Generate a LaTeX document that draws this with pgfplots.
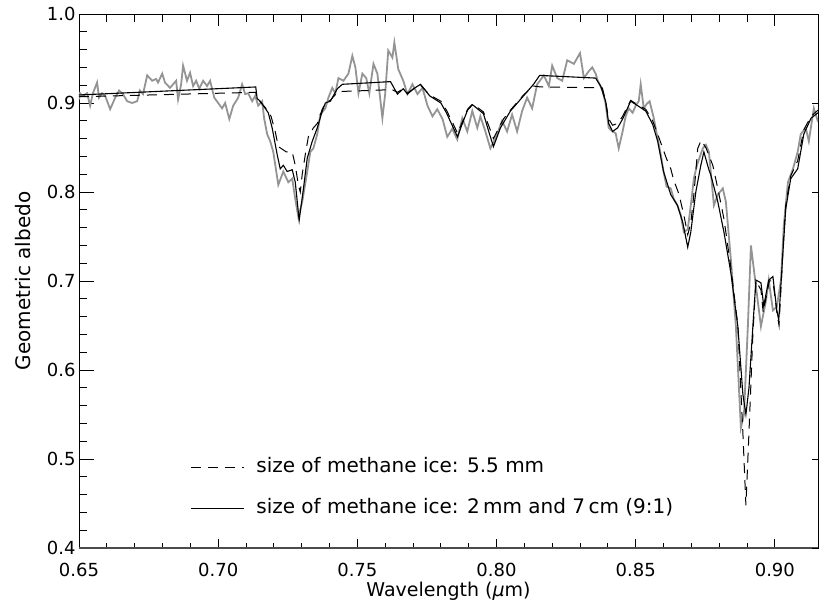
\documentclass[border=0pt]{standalone}
\usepackage{fontspec}
\setmainfont{DejaVu Sans}
\usepackage{pgfplots}
\pgfplotsset{compat=1.18}

% observed geometric albedo spectrum
\pgfplotstableread{
x y
0.6500 0.904
0.6504 0.911
0.6514 0.908
0.6529 0.911
0.6540 0.897
0.6550 0.911
0.6565 0.923
0.6572 0.906
0.6583 0.911
0.6594 0.908
0.6612 0.893
0.6630 0.906
0.6644 0.914
0.6658 0.910
0.6673 0.902
0.6691 0.900
0.6709 0.902
0.6719 0.914
0.6730 0.910
0.6745 0.931
0.6763 0.925
0.6777 0.927
0.6784 0.923
0.6799 0.933
0.6809 0.923
0.6827 0.917
0.6838 0.921
0.6849 0.925
0.6856 0.904
0.6867 0.921
0.6874 0.942
0.6888 0.925
0.6899 0.934
0.6910 0.919
0.6921 0.925
0.6932 0.916
0.6946 0.925
0.6960 0.919
0.6971 0.925
0.6986 0.906
0.7000 0.900
0.7014 0.894
0.7025 0.900
0.7040 0.882
0.7054 0.897
0.7072 0.906
0.7086 0.921
0.7097 0.910
0.7108 0.911
0.7122 0.902
0.7133 0.908
0.7144 0.897
0.7158 0.902
0.7165 0.883
0.7176 0.865
0.7187 0.857
0.7198 0.845
0.7216 0.808
0.7234 0.823
0.7252 0.811
0.7266 0.815
0.7277 0.792
0.7288 0.772
0.7302 0.789
0.7320 0.823
0.7331 0.845
0.7342 0.849
0.7356 0.865
0.7367 0.887
0.7385 0.894
0.7396 0.906
0.7410 0.917
0.7421 0.911
0.7432 0.928
0.7450 0.925
0.7468 0.933
0.7482 0.953
0.7493 0.940
0.7504 0.911
0.7518 0.933
0.7532 0.928
0.7543 0.911
0.7558 0.944
0.7572 0.933
0.7590 0.883
0.7600 0.910
0.7611 0.959
0.7626 0.951
0.7633 0.968
0.7647 0.938
0.7665 0.925
0.7680 0.910
0.7698 0.921
0.7716 0.910
0.7734 0.917
0.7752 0.897
0.7770 0.885
0.7787 0.893
0.7806 0.882
0.7823 0.862
0.7841 0.871
0.7859 0.859
0.7877 0.883
0.7895 0.868
0.7913 0.891
0.7931 0.872
0.7942 0.885
0.7960 0.868
0.7978 0.849
0.7996 0.860
0.8020 0.880
0.8038 0.868
0.8056 0.887
0.8074 0.868
0.8092 0.891
0.8110 0.906
0.8128 0.894
0.8146 0.921
0.8170 0.931
0.8188 0.919
0.8200 0.942
0.8218 0.928
0.8236 0.925
0.8254 0.948
0.8278 0.944
0.8300 0.956
0.8314 0.928
0.8332 0.936
0.8344 0.940
0.8356 0.933
0.8364 0.925
0.8381 0.914
0.8392 0.899
0.8403 0.872
0.8417 0.868
0.8428 0.866
0.8439 0.849
0.8453 0.868
0.8464 0.885
0.8475 0.894
0.8489 0.889
0.8500 0.897
0.8511 0.902
0.8518 0.921
0.8529 0.894
0.8540 0.899
0.8550 0.902
0.8565 0.883
0.8579 0.860
0.8590 0.842
0.8600 0.823
0.8611 0.806
0.8626 0.804
0.8637 0.792
0.8650 0.785
0.8662 0.774
0.8673 0.755
0.8687 0.758
0.8698 0.785
0.8709 0.815
0.8720 0.830
0.8741 0.849
0.8752 0.853
0.8763 0.845
0.8781 0.785
0.8795 0.797
0.8813 0.804
0.8824 0.789
0.8842 0.724
0.8860 0.649
0.8878 0.535
0.8889 0.550
0.8903 0.649
0.8914 0.740
0.8932 0.694
0.8950 0.649
0.8968 0.678
0.8978 0.701
0.8993 0.667
0.9007 0.671
0.9022 0.701
0.9032 0.762
0.9047 0.811
0.9065 0.826
0.9082 0.845
0.9093 0.865
0.9111 0.872
0.9122 0.857
0.9140 0.894
0.9155 0.879
}\observed

% model: single grain size, 5.5 mm
\pgfplotstableread{
x y
0.6500 0.907
0.7135 0.912
0.7140 0.905
0.7169 0.895
0.7190 0.885
0.7205 0.868
0.7216 0.851
0.7245 0.845
0.7266 0.845
0.7277 0.830
0.7288 0.808
0.7295 0.800
0.7302 0.820
0.7313 0.842
0.7324 0.862
0.7342 0.872
0.7356 0.877
0.7374 0.893
0.7385 0.900
0.7403 0.903
0.7428 0.912
0.7446 0.913
0.7625 0.915
0.7644 0.912
0.7665 0.916
0.7680 0.911
0.7702 0.916
0.7727 0.920
0.7760 0.909
0.7800 0.902
0.7820 0.892
0.7845 0.876
0.7860 0.866
0.7875 0.877
0.7896 0.893
0.7914 0.899
0.7953 0.890
0.7975 0.872
0.7989 0.860
0.8005 0.870
0.8025 0.882
0.8050 0.892
0.8097 0.909
0.8133 0.919
0.8160 0.918
0.8380 0.917
0.8392 0.902
0.8403 0.882
0.8417 0.875
0.8435 0.877
0.8453 0.885
0.8482 0.903
0.8507 0.898
0.8536 0.893
0.8561 0.880
0.8579 0.865
0.8610 0.838
0.8626 0.826
0.8637 0.813
0.8655 0.798
0.8673 0.774
0.8687 0.752
0.8698 0.765
0.8709 0.797
0.8723 0.849
0.8735 0.858
0.8752 0.850
0.8777 0.830
0.8795 0.804
0.8817 0.770
0.8842 0.715
0.8867 0.650
0.8885 0.530
0.8896 0.448
0.8907 0.530
0.8921 0.640
0.8932 0.700
0.8950 0.690
0.8958 0.665
0.8980 0.700
0.8993 0.700
0.9007 0.665
0.9015 0.650
0.9029 0.735
0.9039 0.785
0.9057 0.818
0.9082 0.835
0.9104 0.870
0.9130 0.885
0.9155 0.892
}\modelA

% model: two grain sizes, 2 mm and 7 cm mixed 9:1
\pgfplotstableread{
x y
0.6500 0.909
0.7135 0.918
0.7140 0.905
0.7151 0.902
0.7169 0.894
0.7180 0.889
0.7194 0.872
0.7212 0.842
0.7223 0.826
0.7234 0.830
0.7248 0.823
0.7266 0.825
0.7277 0.811
0.7291 0.768
0.7306 0.803
0.7320 0.838
0.7338 0.857
0.7356 0.872
0.7374 0.891
0.7385 0.900
0.7403 0.902
0.7428 0.916
0.7446 0.921
0.7619 0.924
0.7644 0.910
0.7665 0.916
0.7680 0.910
0.7702 0.916
0.7727 0.921
0.7760 0.908
0.7800 0.900
0.7820 0.889
0.7845 0.872
0.7860 0.862
0.7875 0.875
0.7896 0.892
0.7914 0.898
0.7953 0.888
0.7975 0.865
0.7989 0.851
0.8014 0.872
0.8050 0.891
0.8097 0.908
0.8133 0.921
0.8155 0.931
0.8356 0.928
0.8374 0.919
0.8392 0.902
0.8403 0.877
0.8417 0.868
0.8435 0.872
0.8453 0.882
0.8482 0.902
0.8507 0.897
0.8536 0.891
0.8561 0.876
0.8579 0.857
0.8600 0.823
0.8626 0.797
0.8650 0.785
0.8669 0.766
0.8687 0.738
0.8698 0.755
0.8716 0.800
0.8734 0.830
0.8745 0.845
0.8763 0.825
0.8770 0.819
0.8795 0.789
0.8817 0.755
0.8842 0.709
0.8867 0.649
0.8885 0.573
0.8896 0.550
0.8907 0.580
0.8921 0.649
0.8932 0.701
0.8950 0.698
0.8960 0.672
0.8978 0.701
0.8993 0.705
0.9007 0.667
0.9014 0.656
0.9029 0.732
0.9039 0.781
0.9057 0.815
0.9082 0.826
0.9104 0.865
0.9130 0.883
0.9155 0.889
}\modelB

\begin{document}
\begin{tikzpicture}
\pgfplotsset{
  frame/.style={
    width=739bp, height=534bp, scale only axis,
    xmin=0.65, xmax=0.9155, ymin=0.4, ymax=1.0,
    tick align=inside,
    tick style={black, line width=0.8bp},
    /pgf/number format/assume math mode=true,
  },
  ticklbl/.style={font=\fontsize{18bp}{20bp}\selectfont},
}
% data, left ticks, y label and legend
\begin{axis}[frame, name=ax,
  axis line style={black, line width=0.9bp},
  xtick=\empty,
  ytick={0.4,0.5,0.6,0.7,0.8,0.9,1.0}, minor y tick num=4, ytick pos=left,
  major tick length=15bp, minor tick length=8bp,
  yticklabel style={ticklbl, /pgf/number format/fixed,
    /pgf/number format/fixed zerofill, /pgf/number format/precision=1},
  ylabel={Geometric albedo},
  ylabel style={font=\fontsize{20bp}{22bp}\selectfont,
    at={([xshift=-45bp]axis description cs:0,0.5)}, anchor=south},
  legend style={at={(axis cs:0.6899,0.4676)}, anchor=west, draw=none,
    fill=none, inner sep=0pt, column sep=12bp, row sep=21bp,
    font=\fontsize{20bp}{22bp}\selectfont,
    nodes={inner sep=0pt, text height=15bp, text depth=5bp}},
  legend cell align=left,
  legend image code/.code={\draw[#1] (0bp,0bp) -- (53bp,0bp);},
]
\addplot[black!42, line width=1.8bp, forget plot] table {\observed};
\addplot[black, line width=1bp, dash pattern=on 10bp off 7bp] table {\modelA};
\addplot[black, line width=1.1bp] table {\modelB};
\legend{size of methane ice: 5.5 mm, size of methane ice: 2\,mm and 7\,cm (9:1)}
\end{axis}
% bottom ticks, x tick labels and x label
\begin{axis}[frame, axis line style={draw=none}, clip=false,
  ytick=\empty,
  xtick={0.65,0.70,0.75,0.80,0.85,0.90}, minor x tick num=4, xtick pos=left,
  major tick length=9bp, minor tick length=5bp,
  xticklabel style={ticklbl, yshift=-11.4bp, /pgf/number format/fixed,
    /pgf/number format/fixed zerofill, /pgf/number format/precision=2},
  xlabel={Wavelength ({\itshape μ}m)},
  xlabel style={font=\fontsize{19bp}{21bp}\selectfont,
    at={(axis description cs:0.5,0)}, anchor=north, yshift=-31bp},
]
\draw[line width=2bp, black!70] (rel axis cs:0,0) -- (rel axis cs:1,0);
\end{axis}
% top ticks
\begin{axis}[frame, axis line style={draw=none},
  ytick=\empty,
  xtick={0.65,0.70,0.75,0.80,0.85,0.90}, minor x tick num=4, xtick pos=right,
  xticklabels={}, major tick length=12bp, minor tick length=8bp,
]
\end{axis}
% right ticks
\begin{axis}[frame, axis line style={draw=none},
  xtick=\empty,
  ytick={0.4,0.5,0.6,0.7,0.8,0.9,1.0}, ytick pos=right,
  yticklabels={}, major tick length=6bp,
]
\end{axis}
\pgfresetboundingbox
\path ([shift={(-79bp,-54bp)}]ax.south west) rectangle ([shift={(1bp,14bp)}]ax.north east);
\end{tikzpicture}
\end{document}
